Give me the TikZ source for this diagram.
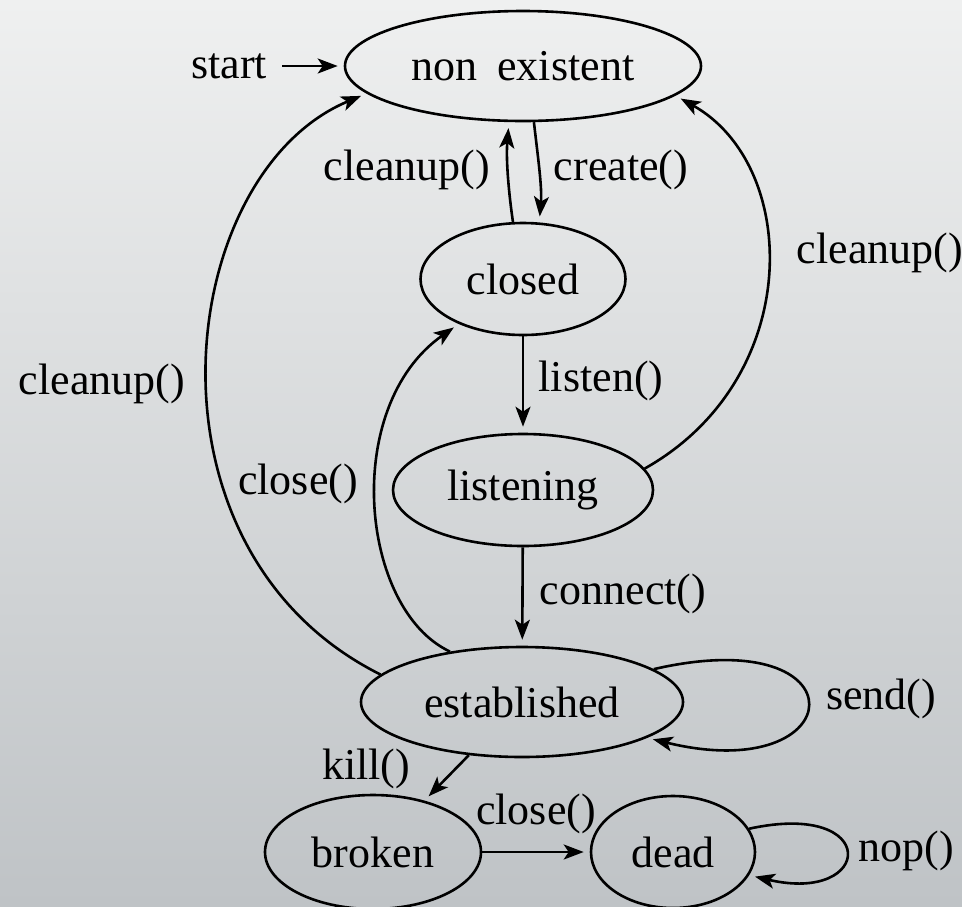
\documentclass[tikz,border=0pt]{standalone}
\usepackage{fontspec}
\setmainfont{Liberation Serif}
\usetikzlibrary{shapes.geometric,arrows.meta}
\definecolor{bgtop}{HTML}{EFF0F0}
\definecolor{bgmid}{HTML}{DFE0E1}
\definecolor{bgbot}{HTML}{BFC3C6}
\begin{document}
\begin{tikzpicture}[x=1pt,y=-1pt,
  every node/.style={font=\fontsize{44}{50}\selectfont},
  state/.style={ellipse,draw,line width=2.6pt,inner sep=0pt},
  arr/.style={line width=2.6pt,-{Stealth[length=20pt,width=15pt,inset=5pt]},shorten >=6pt}]
\useasboundingbox (0,0) rectangle (962,906);
\shade[top color=bgtop, middle color=bgmid, bottom color=bgbot] (0,0) rectangle (962,906);

\node[state,minimum width=356pt,minimum height=110pt] (nonex) at (523,66) {non\hspace{0.45em}existent};
\node[state,minimum width=205pt,minimum height=112pt] (closed) at (523,279) {closed};
\node[state,minimum width=260pt,minimum height=112pt] (listening) at (523,490) {listening};
\node[state,minimum width=322pt,minimum height=110pt] (est) at (522,702) {established};
\node[state,minimum width=216pt,minimum height=114pt] (broken) at (373,852) {broken};
\node[state,minimum width=164pt,minimum height=112pt] (dead) at (673,852) {dead};

\node (lstart) at (229,66) {start};
\node (lcleanA) at (407,170) {cleanup()};
\node (lcreate) at (621,170) {create()};
\node (lcleanR) at (880,253) {cleanup()};
\node (lcleanL) at (102,384) {cleanup()};
\node (llisten) at (601,381) {listen()};
\node (lclose) at (298,484) {close()};
\node (lconnect) at (623,594) {connect()};
\node (lsend) at (881,699) {send()};
\node (lkill) at (366,769) {kill()};
\node (lcloseB) at (536,814) {close()};
\node (lnop) at (906,851) {nop()};

\draw[arr,shorten <=12pt] (lstart) -- (nonex);
\draw[arr] (closed.100) .. controls +(-5,-35) and +(-3,35) .. (nonex.256);
\draw[arr] (nonex.281) .. controls +(4,35) and +(3,-35) .. (closed.74);
\draw[arr] (closed) -- (listening);
\draw[arr] (listening) -- (est);
\draw[arr] (listening.10) .. controls +(160,-90) and +(125,70) .. (nonex.349);
\draw[arr] (est.169) .. controls +(-250,-125) and +(-192,80) .. (nonex.190);
\draw[arr] (est.145) .. controls +(-90,-42) and +(-118,83) .. (closed.215);
\draw[arr] (est.14) .. controls +(212,-49) and +(205,50) .. (est.344);
\draw[arr] (est.225) -- (broken.45);
\draw[arr] (broken) -- (dead);
\draw[arr] (dead.17) .. controls +(132,-29) and +(125,29) .. (dead.343);
\end{tikzpicture}
\end{document}
